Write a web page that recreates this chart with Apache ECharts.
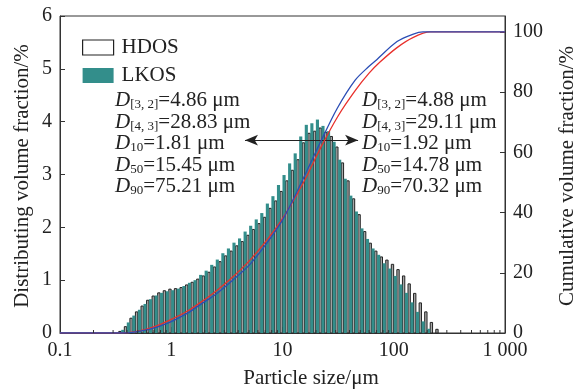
<!DOCTYPE html>
<html>
<head>
<meta charset="utf-8">
<script src="https://cdn.jsdelivr.net/npm/echarts@6/dist/echarts.min.js"></script>
<style>
  html, body { margin: 0; padding: 0; background: #fff; }
  #chart { width: 581px; height: 392px; }
</style>
</head>
<body>
<div id="chart"></div>
<script>
// bin centres, particle size in um
var sizes = [0.335, 0.376, 0.422, 0.473, 0.531, 0.596, 0.668, 0.750, 0.841, 0.944,
  1.059, 1.189, 1.334, 1.496, 1.679, 1.884, 2.113, 2.371, 2.661, 2.985,
  3.350, 3.758, 4.217, 4.732, 5.309, 5.957, 6.683, 7.499, 8.414, 9.441,
  10.59, 11.89, 13.34, 14.96, 16.79, 18.84, 21.13, 23.71, 26.61, 29.85,
  33.50, 37.58, 42.17, 47.32, 53.09, 59.57, 66.83, 74.99, 84.14, 94.41,
  105.9, 118.9, 133.4, 149.6, 167.9, 188.4, 211.3, 237.1];

// distributing volume fraction, %
var hdos = [0.03, 0.12, 0.28, 0.40, 0.51, 0.62, 0.70, 0.76, 0.80, 0.83,
  0.84, 0.86, 0.91, 0.96, 1.02, 1.08, 1.15, 1.25, 1.35, 1.46,
  1.55, 1.65, 1.73, 1.85, 1.96, 2.07, 2.19, 2.36, 2.50, 2.68,
  2.88, 3.08, 3.28, 3.60, 3.78, 3.82, 3.88, 3.80, 3.72, 3.52,
  3.22, 2.88, 2.54, 2.24, 1.92, 1.70, 1.55, 1.44, 1.38, 1.30,
  1.20, 1.08, 0.93, 0.75, 0.57, 0.40, 0.20, 0.07];
var lkos = [0, 0.06, 0.20, 0.33, 0.44, 0.55, 0.64, 0.71, 0.76, 0.79,
  0.81, 0.84, 0.89, 0.95, 1.00, 1.10, 1.18, 1.29, 1.39, 1.51,
  1.60, 1.71, 1.79, 1.92, 2.03, 2.15, 2.27, 2.45, 2.59, 2.80,
  2.99, 3.21, 3.40, 3.72, 3.94, 3.97, 4.04, 3.92, 3.82, 3.62,
  3.28, 2.92, 2.60, 2.30, 1.98, 1.78, 1.60, 1.48, 1.32, 1.22,
  1.08, 0.92, 0.76, 0.58, 0.40, 0.22, 0.08, 0];

// cumulative volume fraction, % : [size um, value]
var cumHdos = [[0.1, 0], [0.35, 0], [0.45, 0.3], [0.6, 1.3], [0.8, 2.9], [1.0, 4.5],
  [1.4, 7.3], [1.81, 10], [2.5, 13.8], [3.59, 18.7], [5.1, 24.2], [7.11, 30.5],
  [10, 38], [15.45, 50], [22, 61.5], [31.5, 72], [45, 80.5], [60, 86.3],
  [75.21, 90], [107, 94.8], [150, 98.2], [212, 100], [300, 100], [1000, 100]];
var cumLkos = [[0.1, 0], [0.36, 0], [0.45, 0.2], [0.6, 1.0], [0.8, 2.4], [1.0, 3.8],
  [1.4, 6.6], [1.92, 10], [2.5, 12.8], [3.59, 17.6], [5.1, 22.8], [7.11, 29.5],
  [10, 37.5], [14.78, 50], [22, 63.5], [30.9, 74.5], [45, 84], [60, 88.6],
  [70.32, 90.8], [107, 96.8], [150, 99.3], [183, 100], [300, 100], [1000, 100]];

var minorTicks = [0.2, 0.3, 0.4, 0.5, 0.6, 0.7, 0.8, 0.9, 2, 3, 4, 5, 6, 7, 8, 9,
  20, 30, 40, 50, 60, 70, 80, 90, 200, 300, 400, 500, 600, 700, 800, 900];

var leftStats = [['[3, 2]', '4.86'], ['[4, 3]', '28.83'], ['10', '1.81'], ['50', '15.45'], ['90', '75.21']];
var rightStats = [['[3, 2]', '4.88'], ['[4, 3]', '29.11'], ['10', '1.92'], ['50', '14.78'], ['90', '70.32']];

var arrowY = 3.65;
var arrowFrom = 4.6, arrowTo = 47.8;

var FONT = '"Liberation Serif", "Times New Roman", serif';
var TEAL = '#338e8b';
var INK = '#222';

function statText(rows) {
  return rows.map(function (r) {
    return '{d|D}{s|' + r[0] + '}{t|=' + r[1] + ' μm}';
  }).join('\n');
}
var statRich = {
  d: { fontFamily: FONT, fontSize: 21, fontStyle: 'italic', lineHeight: 21.5, fill: INK },
  s: { fontFamily: FONT, fontSize: 13, lineHeight: 8, verticalAlign: 'bottom', fill: INK },
  t: { fontFamily: FONT, fontSize: 21, lineHeight: 21.5, fill: INK }
};

// bar spans in log10 units relative to the bin centre
function barRender(lo, hi) {
  return function (params, api) {
    var h = api.value(1);
    if (!h) return;
    var x = api.value(0);
    var a = api.coord([x * Math.pow(10, lo), h]);
    var b = api.coord([x * Math.pow(10, hi), 0]);
    return {
      type: 'rect',
      shape: { x: a[0], y: a[1], width: b[0] - a[0], height: b[1] - a[1] },
      style: api.style()
    };
  };
}

var chart = echarts.init(document.getElementById('chart'));
chart.setOption({
  animation: false,
  textStyle: { fontFamily: FONT },
  grid: { left: 60, right: 76, top: 16, bottom: 59, show: true, borderColor: '#333', borderWidth: 1 },
  legend: {
    left: 82, top: 37, orient: 'vertical', itemWidth: 31, itemHeight: 15, itemGap: 7, padding: 0,
    icon: 'rect',
    textStyle: { fontFamily: FONT, fontSize: 21, color: INK, padding: [0, 0, 0, 3] },
    data: [
      { name: 'HDOS', itemStyle: { color: '#fff', borderColor: INK, borderWidth: 1.2 } },
      { name: 'LKOS', itemStyle: { color: TEAL, borderWidth: 0 } }
    ]
  },
  xAxis: {
    type: 'log', min: 0.1, max: 1000, logBase: 10,
    axisLine: { lineStyle: { color: '#333' } },
    axisTick: { inside: true, length: 6, lineStyle: { color: '#333' } },
    splitLine: { show: false },
    axisLabel: {
      color: INK, fontSize: 20, fontFamily: FONT, margin: 8,
      formatter: function (v) {
        var k = Math.round(Math.log10(v));
        return ['0.1', '1', '10', '100', '1 000'][k + 1];
      }
    }
  },
  yAxis: [
    {
      type: 'value', min: 0, max: 6, interval: 1,
      axisLine: { show: true, lineStyle: { color: '#333' } },
      axisTick: { show: true, inside: true, length: 5, lineStyle: { color: '#333' } },
      splitLine: { show: false },
      axisLabel: { color: INK, fontSize: 20, fontFamily: FONT, margin: 8 }
    },
    {
      type: 'value', min: 0, max: 105.3, interval: 20, position: 'right',
      axisLine: { show: true, lineStyle: { color: '#333' } },
      axisTick: { show: true, inside: true, length: 5, lineStyle: { color: '#333' } },
      splitLine: { show: false },
      axisLabel: { color: INK, fontSize: 20, fontFamily: FONT, margin: 8, showMaxLabel: false }
    }
  ],
  graphic: [
    { type: 'text', left: 115, top: 90, z: 10, style: { text: statText(leftStats), rich: statRich } },
    { type: 'text', left: 362, top: 90, z: 10, style: { text: statText(rightStats), rich: statRich } },
    {
      type: 'text', x: 22, y: 176, rotation: Math.PI / 2,
      style: { text: 'Distributing volume fraction/%', font: '21px ' + FONT, fill: INK, align: 'center', verticalAlign: 'middle' }
    },
    {
      type: 'text', x: 567, y: 176, rotation: Math.PI / 2,
      style: { text: 'Cumulative volume fraction/%', font: '21px ' + FONT, fill: INK, align: 'center', verticalAlign: 'middle' }
    },
    {
      type: 'text', x: 311, y: 378,
      style: { text: 'Particle size/μm', font: '21px ' + FONT, fill: INK, align: 'center', verticalAlign: 'middle' }
    }
  ],
  series: [
    {
      // double arrow between the two stat blocks, drawn under the bars
      type: 'line', z: 1, data: [], silent: true,
      markLine: {
        silent: true, symbol: ['arrow', 'arrow'], symbolSize: [8, 13],
        label: { show: false },
        lineStyle: { color: INK, width: 1.2, type: 'solid' },
        data: [[{ coord: [arrowFrom, arrowY] }, { coord: [arrowTo, arrowY] }]]
      }
    },
    {
      name: 'HDOS', type: 'custom', z: 2,
      renderItem: barRender(0.003, 0.024),
      itemStyle: { color: '#a8a8a8', borderColor: INK, borderWidth: 1 },
      data: sizes.map(function (s, i) { return [s, hdos[i]]; })
    },
    {
      name: 'LKOS', type: 'custom', z: 3,
      renderItem: barRender(-0.025, 0.003),
      itemStyle: { color: TEAL },
      data: sizes.map(function (s, i) { return [s, lkos[i]]; })
    },
    {
      name: 'HDOS cumulative', type: 'line', yAxisIndex: 1, z: 5,
      showSymbol: false, smooth: 0.3,
      lineStyle: { color: '#e8302c', width: 1.3 },
      data: cumHdos
    },
    {
      name: 'LKOS cumulative', type: 'line', yAxisIndex: 1, z: 5,
      showSymbol: false, smooth: 0.3,
      lineStyle: { color: '#2b4db5', width: 1.3 },
      data: cumLkos
    },
    {
      // minor ticks of the log axis
      type: 'custom', z: 6, silent: true,
      renderItem: function (params, api) {
        var p = api.coord([api.value(0), 0]);
        return { type: 'line', shape: { x1: p[0], y1: p[1], x2: p[0], y2: p[1] - 3 }, style: { stroke: '#333', lineWidth: 1 } };
      },
      data: minorTicks.map(function (v) { return [v]; })
    }
  ]
});
</script>
</body>
</html>
